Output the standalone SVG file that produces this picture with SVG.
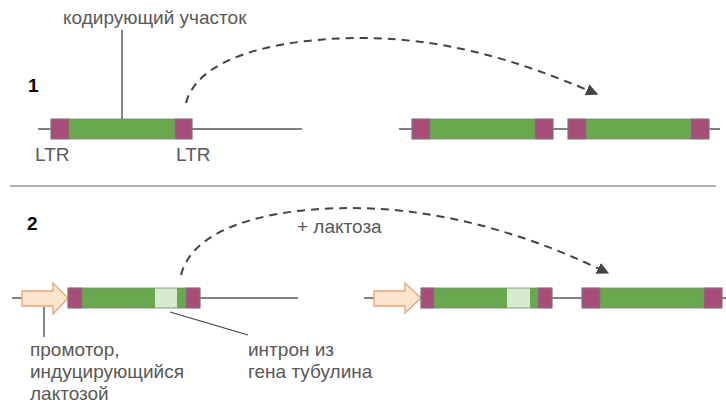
<svg xmlns="http://www.w3.org/2000/svg" width="726" height="407" viewBox="0 0 726 407">
<defs>
<marker id="ah" viewBox="0 0 10 10" refX="9" refY="5" markerWidth="6" markerHeight="6" orient="auto" markerUnits="strokeWidth">
<path d="M0,0 L10,5 L0,10 z" fill="#434343"/>
</marker>
</defs>
<style>
text{font-family:"Liberation Sans",Arial,sans-serif;font-size:19px;fill:#595959}
.num{font-weight:bold;fill:#000;font-size:19px}
.dna{stroke:#595959;stroke-width:1.3;fill:none}
.ltr{fill:#a64d79;stroke:#808080;stroke-width:0.8}
.cds{fill:#6aa84f;stroke:#808080;stroke-width:0.8}
.intr{fill:#d9ead3;stroke:none}
.prom{fill:#fce5cd;stroke:#e6a576;stroke-width:1.3}
.lead{stroke:#434343;stroke-width:1.3;fill:none}
.jump{stroke:#434343;stroke-width:2;fill:none;stroke-dasharray:8,6;marker-end:url(#ah)}
</style>
<rect width="726" height="407" fill="#fff"/>
<line x1="10" y1="186" x2="716" y2="186" stroke="#999" stroke-width="1.3"/>
<text class="num" x="28" y="92">1</text>
<text class="num" x="27" y="230">2</text>

<g id="dna-lines">
<line class="dna" x1="38" y1="129" x2="302" y2="129"/>
<line class="dna" x1="399" y1="129" x2="720" y2="129"/>
<line class="dna" x1="12" y1="298" x2="298" y2="298"/>
<line class="dna" x1="364" y1="298" x2="726" y2="298"/>
</g>

<g id="element1">
<rect class="cds" x="51" y="119" width="141" height="20"/>
<rect class="ltr" x="51" y="119" width="18" height="20"/>
<rect class="ltr" x="175" y="119" width="17" height="20"/>
</g>
<g id="copy1a">
<rect class="cds" x="412" y="119" width="141" height="20"/>
<rect class="ltr" x="412" y="119" width="18" height="20"/>
<rect class="ltr" x="535" y="119" width="18" height="20"/>
</g>
<g id="copy1b">
<rect class="cds" x="568" y="119" width="141" height="20"/>
<rect class="ltr" x="568" y="119" width="18" height="20"/>
<rect class="ltr" x="691" y="119" width="18" height="20"/>
</g>

<g id="promoter2a">
<path class="prom" d="M22,291 H53 V283 L68,298 L53,314 V306 H22 Z"/>
</g>
<g id="element2">
<rect class="cds" x="68" y="288" width="132" height="20"/>
<rect class="intr" x="155" y="288.5" width="22" height="19"/>
<rect class="ltr" x="68" y="288" width="14" height="20"/>
<rect class="ltr" x="186" y="288" width="14" height="20"/>
</g>
<g id="promoter2b">
<path class="prom" d="M374,291 H405 V283 L421,298 L405,313 V306 H374 Z"/>
</g>
<g id="element2b">
<rect class="cds" x="421" y="288" width="131" height="20"/>
<rect class="intr" x="507" y="288.5" width="23" height="19"/>
<rect class="ltr" x="421" y="288" width="13" height="20"/>
<rect class="ltr" x="538" y="288" width="14" height="20"/>
</g>
<g id="copy2">
<rect class="cds" x="582" y="288" width="140" height="20"/>
<rect class="ltr" x="582" y="288" width="18" height="20"/>
<rect class="ltr" x="704" y="288" width="18" height="20"/>
</g>

<g id="connectors">
<line class="lead" x1="122" y1="30" x2="122" y2="119"/>
<line class="lead" x1="44" y1="307" x2="44" y2="337"/>
<line class="lead" x1="170" y1="312" x2="248" y2="335"/>
<path class="jump" d="M186,103 C200,50 300,38 360,38 C460,38 540,70 597,94"/>
<path class="jump" d="M181,275 C195,220 290,208 350,208 C450,208 540,240 608,273"/>
</g>

<g id="labels">
<text x="63" y="24">кодирующий участок</text>
<text x="35" y="161">LTR</text>
<text x="176" y="161">LTR</text>
<text x="297" y="233">+ лактоза</text>
<text x="30" y="356">промотор,</text>
<text x="30" y="378">индуцирующийся</text>
<text x="30" y="400">лактозой</text>
<text x="248" y="356">интрон из</text>
<text x="248" y="378">гена тубулина</text>
</g>
</svg>
